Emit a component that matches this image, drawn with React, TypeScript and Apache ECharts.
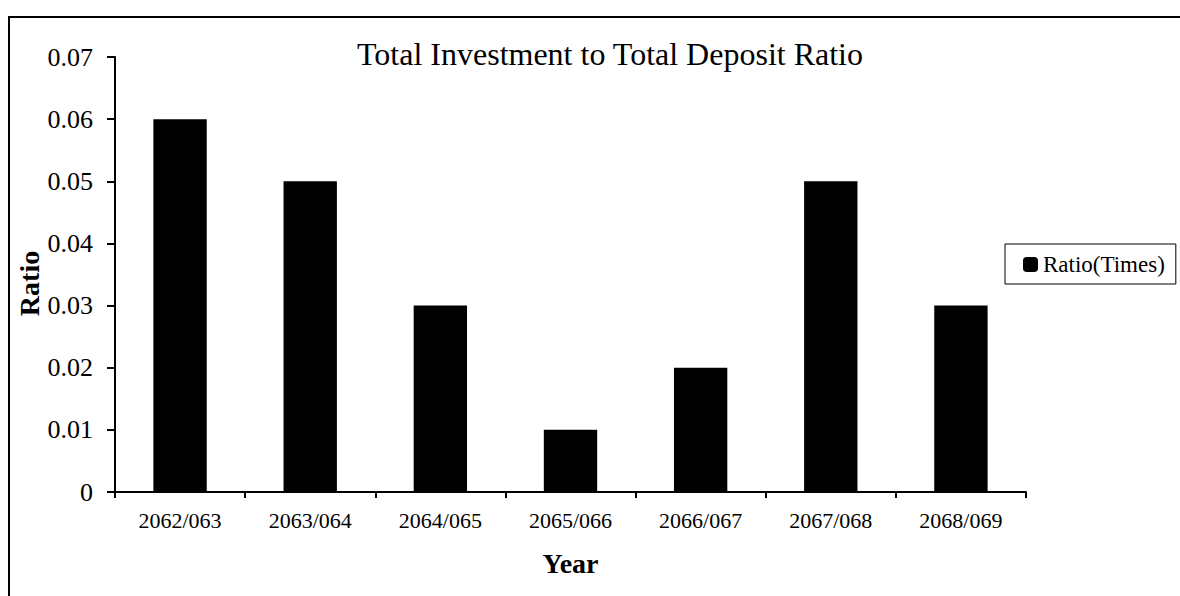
import React, { useEffect, useRef } from "react";
import * as echarts from "echarts";

const categories = ["2062/063", "2063/064", "2064/065", "2065/066", "2066/067", "2067/068", "2068/069"];
const ratioValues = [0.06, 0.05, 0.03, 0.01, 0.02, 0.05, 0.03];
const seriesName = "Ratio(Times)";
const titleText = "Total Investment to Total Deposit Ratio";

const FONT = "'Liberation Serif', 'Times New Roman', serif";

export default function App() {
  const ref = useRef<HTMLDivElement>(null);
  useEffect(() => {
    document.body.style.margin = "0";
    const chart = echarts.init(ref.current!, undefined, { renderer: "svg" });
    chart.setOption({
      animation: false,
      backgroundColor: "#ffffff",
      textStyle: { fontFamily: FONT, color: "#000" },
      title: {
        text: titleText,
        left: 610,
        textAlign: "center",
        top: 38,
        padding: 0,
        textStyle: { fontFamily: FONT, fontSize: 32, fontWeight: "normal", color: "#000" },
      },
      graphic: [
        {
          type: "rect",
          shape: { x: 9, y: 17, width: 1300, height: 700 },
          style: { fill: "none", stroke: "#000", lineWidth: 2 },
          silent: true,
          z: -1,
        },
      ],
      legend: {
        left: 1005,
        top: 244,
        orient: "vertical",
        borderColor: "#000",
        borderWidth: 1,
        padding: [9, 11, 8, 18],
        itemWidth: 15,
        itemHeight: 15,
        icon: "roundRect",
        textStyle: { fontFamily: FONT, fontSize: 23, color: "#000" },
        data: [seriesName],
      },
      grid: { left: 115, top: 57, right: 154, bottom: 104, containLabel: false },
      xAxis: {
        type: "category",
        data: categories,
        name: "Year",
        nameLocation: "middle",
        nameGap: 57,
        nameMoveOverlap: false,
        nameTextStyle: { fontFamily: FONT, fontSize: 28, fontWeight: "bold", color: "#000" },
        axisLine: { lineStyle: { color: "#000", width: 2 } },
        axisTick: { show: true, alignWithLabel: false, length: 6, lineStyle: { color: "#000", width: 2 }, inside: false },
        axisLabel: { fontFamily: FONT, fontSize: 22, color: "#000", margin: 17 },
        splitLine: { show: false },
      },
      yAxis: {
        type: "value",
        min: 0,
        max: 0.07,
        interval: 0.01,
        name: "Ratio",
        nameLocation: "middle",
        nameGap: 72,
        nameMoveOverlap: false,
        nameTextStyle: { fontFamily: FONT, fontSize: 28, fontWeight: "bold", color: "#000", padding: [0, 18, 0, 0] },
        axisLine: { show: true, lineStyle: { color: "#000", width: 2 } },
        axisTick: { show: true, length: 8, lineStyle: { color: "#000", width: 2 } },
        axisLabel: {
          fontFamily: FONT,
          fontSize: 26,
          color: "#000",
          margin: 22,
          formatter: (v: number) => (v === 0 ? "0" : v.toFixed(2)),
        },
        splitLine: { show: false },
      },
      series: [
        {
          name: seriesName,
          type: "bar",
          data: ratioValues,
          barWidth: "41%",
          itemStyle: { color: "#000" },
        },
      ],
    });
    return () => chart.dispose();
  }, []);
  return <div ref={ref} style={{ width: 1180, height: 596 }} />;
}
